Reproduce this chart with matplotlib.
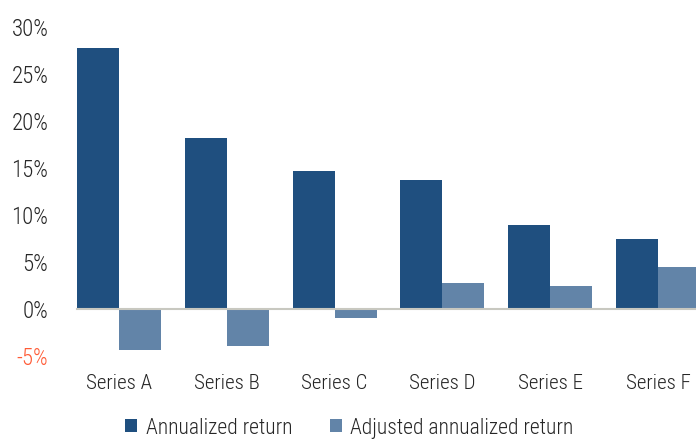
import numpy as np
import matplotlib.pyplot as plt
from matplotlib import font_manager

# data
categories = ['Series A', 'Series B', 'Series C', 'Series D', 'Series E', 'Series F']
annualized = [27.8, 18.2, 14.7, 13.7, 8.9, 7.4]
adjusted = [-4.4, -3.9, -1.0, 2.8, 2.5, 4.5]
y_ticks = [-5, 0, 5, 10, 15, 20, 25, 30]

c_dark = '#1F4F7F'
c_light = '#6284A8'
c_text = '#262626'
c_neg = '#FF5B36'

names = {f.name for f in font_manager.fontManager.ttflist}
fam = [n for n in ['Roboto Condensed', 'Roboto'] if n in names][:1] + ['DejaVu Sans']
plt.rcParams['font.family'] = fam
plt.rcParams['font.weight'] = 'light'

fig = plt.figure(figsize=(6.96, 4.42), dpi=100)
# plot area extends a bit past the right edge like the original
ax = fig.add_axes([65 / 696, (442 - 356) / 442, 647 / 696, 329 / 442])

x = np.arange(len(categories))
w = 0.39
ax.bar(x - w / 2, annualized, w, color=c_dark, label='Annualized return')
ax.bar(x + w / 2, adjusted, w, color=c_light, label='Adjusted annualized return')
ax.axhline(0, xmin=0.11 / 6, color='#C8C8C0', lw=1.5, zorder=3)

ax.set_xlim(-0.5, len(categories) - 0.5)
ax.set_ylim(-5, 30)
ax.set_yticks(y_ticks)
ax.set_yticklabels([f'{t}%' for t in y_ticks], fontsize=16.5, color=c_text)
for lab, t in zip(ax.get_yticklabels(), y_ticks):
    if t < 0:
        lab.set_color(c_neg)
ax.set_xticks(x)
ax.set_xticklabels(categories, fontsize=15, color=c_text)
ax.tick_params(axis='y', length=0, pad=12)
ax.tick_params(axis='x', length=0, pad=13)
for s in ax.spines.values():
    s.set_visible(False)

fig.legend(loc='lower left', bbox_to_anchor=(106 / 696, -0.036), ncol=2, frameon=False,
           fontsize=15.5, handlelength=0.55, handleheight=0.55, handletextpad=0.4,
           columnspacing=1.75, labelcolor=c_text)

fig.savefig('out.png', dpi=100)
